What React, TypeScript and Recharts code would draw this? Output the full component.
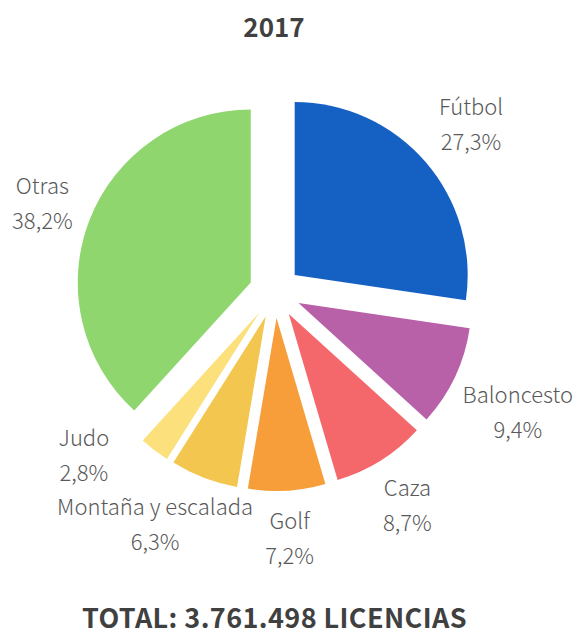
import React from 'react';
import { PieChart, Pie, Cell, Sector } from 'recharts';

const title = '2017';
const footer = 'TOTAL: 3.761.498 LICENCIAS';
const categories = ['Fútbol', 'Baloncesto', 'Caza', 'Golf', 'Montaña y escalada', 'Judo', 'Otras'];
const shares = [27.3, 9.4, 8.7, 7.2, 6.3, 2.8, 38.2];
const colors = ['#1560C3', '#B860A8', '#F4676B', '#F79E3A', '#F2C64F', '#FBE07C', '#8FD66F'];

const data = categories.map((name, i) => ({ name, value: shares[i] }));

const W = 574;
const H = 635;
const EXPLODE = 26;
const LABEL_GAP = 18;
const LABEL_FONT = '300 22px "Noto Sans CJK JP"';
const LINE_H = 35;
const BOX_H = 55;
const PAD = 12;
const EDGE = 1;
const RAD = Math.PI / 180;

let ctx: CanvasRenderingContext2D | null = null;
function textWidth(s: string): number {
  if (!ctx) {
    const c = document.createElement('canvas');
    ctx = c.getContext('2d');
  }
  if (!ctx) return s.length * 11;
  ctx.font = LABEL_FONT;
  return ctx.measureText(s).width;
}

const fmt = (v: number) => v.toFixed(1).replace('.', ',') + '%';

type Box = { cx: number; cy: number; x0: number; x1: number; y0: number; y1: number };

function overlaps(a: Box, b: Box) {
  return a.x0 < b.x1 + PAD && a.x1 + PAD > b.x0 && a.y0 < b.y1 + PAD && a.y1 + PAD > b.y0;
}

// Label layout: each label sits just outside its slice along the slice's middle
// direction. Labels are placed from the largest slice to the smallest; a label that
// would overlap an already placed one slides clockwise (horizontally when it sits
// near the top or bottom of the pie, along the circle otherwise).
let cache: { key: string; boxes: Box[] } | null = null;
function layoutLabels(cx: number, cy: number, R: number, mids: number[]): Box[] {
  const key = `${cx},${cy},${R},${mids.join(',')}`;
  if (cache && cache.key === key) return cache.boxes;
  const n = mids.length;
  const widths = categories.map((c, i) => Math.max(textWidth(c), textWidth(fmt(shares[i]))));
  const place = (i: number, a: number, shift: number): Box => {
    const ux = Math.cos(-a * RAD);
    const uy = Math.sin(-a * RAD);
    const w = widths[i];
    const tx = Math.abs(ux) > 1e-6 ? w / 2 / Math.abs(ux) : Infinity;
    const ty = Math.abs(uy) > 1e-6 ? BOX_H / 2 / Math.abs(uy) : Infinity;
    const t = Math.min(tx, ty);
    let bx = cx + (R + t) * ux + shift;
    const by = cy + (R + t) * uy;
    if (bx + w / 2 > W - EDGE) bx = W - EDGE - w / 2;
    if (bx - w / 2 < EDGE) bx = EDGE + w / 2;
    return { cx: bx, cy: by, x0: bx - w / 2, x1: bx + w / 2, y0: by - BOX_H / 2, y1: by + BOX_H / 2 };
  };
  const order = Array.from({ length: n }, (_, i) => i).sort((a, b) => shares[b] - shares[a]);
  const boxes: Box[] = new Array(n);
  const done: Box[] = [];
  for (const i of order) {
    let a = mids[i];
    let shift = 0;
    const uy = Math.sin(-a * RAD);
    const nearVertical = Math.abs(Math.cos(-a * RAD)) < 0.5;
    const dir = uy > 0 ? -1 : 1;
    let box = place(i, a, shift);
    for (let k = 0; k < 400 && done.some((d) => overlaps(box, d)); k++) {
      if (nearVertical) shift += dir;
      else a -= 0.5;
      box = place(i, a, shift);
    }
    boxes[i] = box;
    done.push(box);
  }
  cache = { key, boxes };
  return boxes;
}

function midAngles(): number[] {
  const total = shares.reduce((s, v) => s + v, 0);
  let acc = 0;
  return shares.map((v) => {
    const start = 90 - (acc / total) * 360;
    acc += v;
    const end = 90 - (acc / total) * 360;
    return (start + end) / 2;
  });
}

function renderShape(props: any) {
  const { cx, cy, midAngle, innerRadius, outerRadius, startAngle, endAngle, fill } = props;
  const dx = EXPLODE * Math.cos(-midAngle * RAD);
  const dy = EXPLODE * Math.sin(-midAngle * RAD);
  return (
    <Sector
      cx={cx + dx}
      cy={cy + dy}
      innerRadius={innerRadius}
      outerRadius={outerRadius}
      startAngle={startAngle}
      endAngle={endAngle}
      fill={fill}
      stroke="none"
    />
  );
}

function renderLabel(props: any) {
  const { cx, cy, outerRadius, index } = props;
  const boxes = layoutLabels(cx, cy, outerRadius + EXPLODE + LABEL_GAP, midAngles());
  const b = boxes[index];
  return (
    <g key={`lbl-${index}`}>
      <text
        x={b.cx}
        y={b.cy - LINE_H / 2}
        textAnchor="middle"
        dominantBaseline="central"
        fill="#595959"
        style={{ font: LABEL_FONT }}
      >
        {categories[index]}
      </text>
      <text
        x={b.cx}
        y={b.cy + LINE_H / 2}
        textAnchor="middle"
        dominantBaseline="central"
        fill="#595959"
        style={{ font: LABEL_FONT }}
      >
        {fmt(shares[index])}
      </text>
    </g>
  );
}

export default function App() {
  return (
    <div style={{ position: 'absolute', left: 0, top: 0, width: W, height: H, background: '#fff', overflow: 'hidden' }}>
      <div
        style={{
          position: 'absolute',
          left: 0,
          top: 12,
          width: 548,
          textAlign: 'center',
          font: 'bold 26px "Noto Sans CJK JP"',
          lineHeight: '28px',
          color: '#404040',
        }}
      >
        {title}
      </div>
      <PieChart width={W} height={H} margin={{ top: 0, right: 0, bottom: 0, left: 0 }}>
        <Pie
          data={data}
          dataKey="value"
          nameKey="name"
          cx={275}
          cy={292}
          innerRadius={0}
          outerRadius={173}
          startAngle={90}
          endAngle={-270}
          stroke="none"
          isAnimationActive={false}
          shape={renderShape}
          activeShape={renderShape}
          inactiveShape={renderShape}
          label={renderLabel}
          labelLine={false}
        >
          {data.map((d, i) => (
            <Cell key={d.name} fill={colors[i]} />
          ))}
        </Pie>
      </PieChart>
      <div
        style={{
          position: 'absolute',
          left: 0,
          top: 604,
          width: 549,
          textAlign: 'center',
          font: 'bold 27px "Noto Sans CJK JP"',
          lineHeight: '26px',
          letterSpacing: '0.4px',
          color: '#404040',
          whiteSpace: 'nowrap',
        }}
      >
        {footer}
      </div>
    </div>
  );
}
